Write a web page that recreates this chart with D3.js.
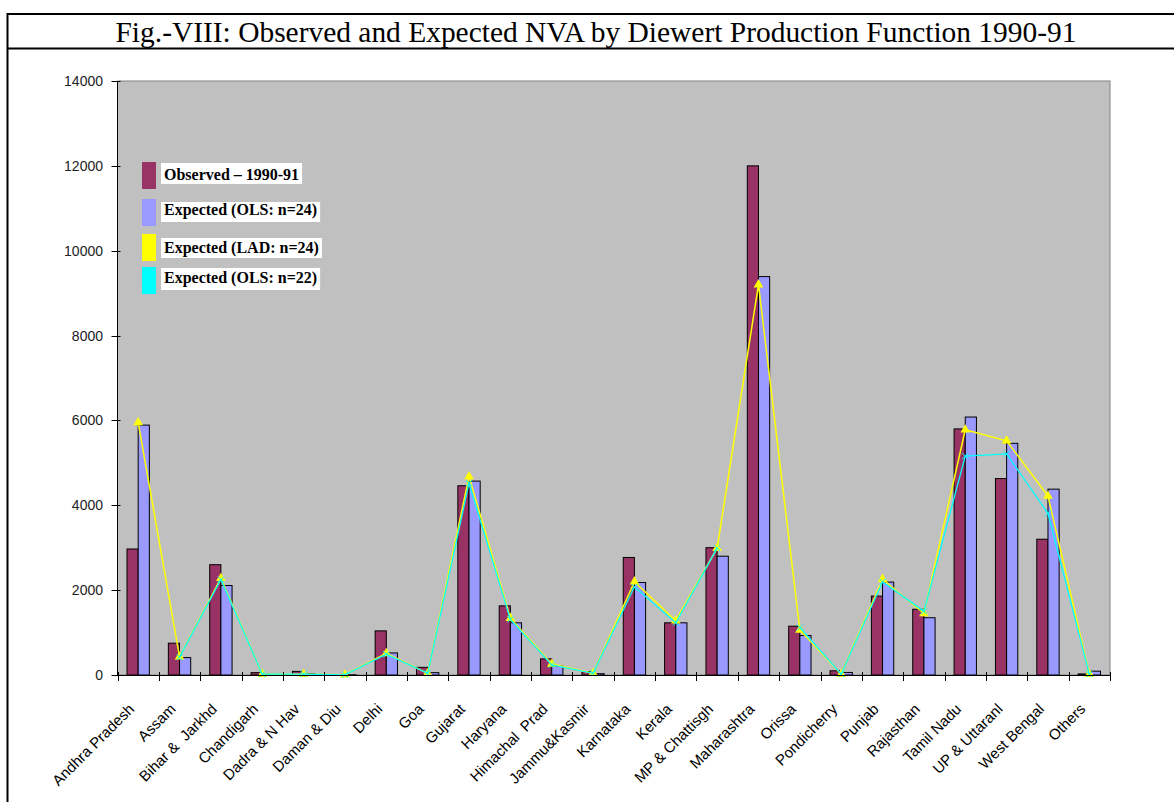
<!DOCTYPE html>
<html>
<head>
<meta charset="utf-8">
<script src="https://cdn.jsdelivr.net/npm/d3@7"></script>
<style>
  html, body { margin: 0; padding: 0; background: #fff; }
  svg { display: block; }
</style>
</head>
<body>
<script>
const categories = ["Andhra Pradesh","Assam","Bihar &  Jarkhd","Chandigarh","Dadra & N Hav","Daman & Diu","Delhi","Goa","Gujarat","Haryana","Himachal  Prad","Jammu&Kasmir","Karnataka","Kerala","MP & Chattisgh","Maharashtra","Orissa","Pondicherry","Punjab","Rajasthan","Tamil Nadu","UP & Uttaranl","West Bengal","Others"];
const observed  = [2970, 750, 2600, 55, 85, 8, 1040, 180, 4460, 1630, 380, 80, 2770, 1230, 3000, 12000, 1150, 100, 1860, 1550, 5800, 4630, 3200, 25];
const olsExp24  = [5890, 410, 2110, 15, 30, 5, 520, 55, 4570, 1230, 210, 30, 2180, 1230, 2800, 9390, 930, 60, 2190, 1350, 6080, 5460, 4380, 90];
const ladExp24  = [5950, 430, 2280, 20, 20, 5, 510, 40, 4680, 1340, 260, 40, 2200, 1280, 2990, 9200, 1060, 20, 2260, 1450, 5780, 5520, 4220, 20];
const olsExp22  = [null, 420, 2250, 20, 20, 5, 490, 40, 4520, 1310, 240, 40, 2080, 1230, 2990, null, 1120, 20, 2200, 1500, 5160, 5210, 3810, 20];
const yTicks = [0, 2000, 4000, 6000, 8000, 10000, 12000, 14000];
const legendLabels = ["Observed \u2013 1990-91", "Expected (OLS: n=24)", "Expected (LAD: n=24)", "Expected (OLS: n=22)"];
const titleText = "Fig.-VIII: Observed and Expected NVA by Diewert Production Function 1990-91";

const W = 1174, H = 802;
const svg = d3.select("body").append("svg").attr("width", W).attr("height", H);

// frame
svg.append("line").attr("x1", 7).attr("x2", W).attr("y1", 14).attr("y2", 14).attr("stroke", "#000").attr("stroke-width", 2);
svg.append("line").attr("x1", 7).attr("x2", W).attr("y1", 48.5).attr("y2", 48.5).attr("stroke", "#000").attr("stroke-width", 2);
svg.append("line").attr("x1", 7.5).attr("x2", 7.5).attr("y1", 13).attr("y2", H).attr("stroke", "#000").attr("stroke-width", 2);

svg.append("text").attr("x", 596).attr("y", 41.5)
  .attr("text-anchor", "middle")
  .attr("font-family", "'Liberation Serif', 'Times New Roman', serif")
  .attr("font-size", 30)
  .attr("textLength", 961).attr("lengthAdjust", "spacingAndGlyphs")
  .text(titleText);

const pLeft = 117.5, pRight = 1110, pTop = 81, pBottom = 675;
const x = d3.scaleBand().domain(categories).range([pLeft, pRight]).paddingInner(0).paddingOuter(0);
const sub = d3.scaleBand().domain(["obs", "ols"]).range([0, x.bandwidth()]).paddingInner(0).paddingOuter(0.85);
const y = d3.scaleLinear().domain([0, 14000]).range([pBottom, pTop]);

// plot area
svg.append("rect").attr("x", pLeft).attr("y", pTop).attr("width", pRight - pLeft).attr("height", pBottom - pTop)
  .attr("fill", "#C0C0C0").attr("stroke", "#808080").attr("stroke-width", 1);

// bars
const barSeries = [
  { key: "obs", values: observed, color: "#993366" },
  { key: "ols", values: olsExp24, color: "#9999FF" }
];
barSeries.forEach(s => {
  svg.append("g").selectAll("rect").data(categories).join("rect")
    .attr("x", (d) => x(d) + sub(s.key))
    .attr("y", (d, i) => y(s.values[i]))
    .attr("width", sub.bandwidth())
    .attr("height", (d, i) => y(0) - y(s.values[i]))
    .attr("fill", s.color)
    .attr("stroke", "#000").attr("stroke-width", 1);
});

const cx = d => x(d) + x.bandwidth() / 2;

// LAD line (yellow, triangles)
const ladPts = categories.map((c, i) => ({ c, v: ladExp24[i] }));
const lineGen = d3.line().defined(p => p.v != null).x(p => cx(p.c)).y(p => y(p.v));
svg.append("path").datum(ladPts).attr("d", lineGen).attr("fill", "none")
  .attr("stroke", "#FFFF00").attr("stroke-width", 1.5);
svg.append("g").selectAll("path").data(ladPts).join("path")
  .attr("transform", p => `translate(${cx(p.c)},${y(p.v)})`)
  .attr("d", d3.symbol().type(d3.symbolTriangle).size(40))
  .attr("fill", "#FFFF00");

// OLS n=22 line (cyan, x markers)
const o22Pts = categories.map((c, i) => ({ c, v: olsExp22[i] }));
svg.append("path").datum(o22Pts).attr("d", lineGen).attr("fill", "none")
  .attr("stroke", "#00FFFF").attr("stroke-width", 1.3);
svg.append("g").selectAll("path").data(o22Pts.filter(p => p.v != null)).join("path")
  .attr("transform", p => `translate(${cx(p.c)},${y(p.v)})`)
  .attr("d", "M-3,-3L3,3M-3,3L3,-3")
  .attr("stroke", "#00FFFF").attr("stroke-width", 1).attr("fill", "none");

// axes
const gy = svg.append("g");
gy.append("line").attr("x1", pLeft).attr("x2", pLeft).attr("y1", pTop).attr("y2", pBottom).attr("stroke", "#000");
gy.selectAll("line.t").data(yTicks).join("line").attr("class", "t")
  .attr("x1", pLeft - 6).attr("x2", pLeft + 3)
  .attr("y1", d => Math.round(y(d)) + 0.5).attr("y2", d => Math.round(y(d)) + 0.5)
  .attr("stroke", "#000");
gy.selectAll("text").data(yTicks).join("text")
  .attr("x", 103).attr("y", d => y(d)).attr("dy", "0.36em")
  .attr("text-anchor", "end")
  .attr("font-family", "'Liberation Sans', Arial, sans-serif").attr("font-size", 14)
  .attr("fill", "#222")
  .text(d => d);

const gx = svg.append("g");
gx.append("line").attr("x1", pLeft).attr("x2", pRight).attr("y1", pBottom + 0.5).attr("y2", pBottom + 0.5).attr("stroke", "#000");
const tickPos = categories.map(c => x(c)).concat([pRight]);
gx.selectAll("line.t").data(tickPos).join("line").attr("class", "t")
  .attr("x1", d => Math.round(d) + 0.5).attr("x2", d => Math.round(d) + 0.5)
  .attr("y1", pBottom - 3).attr("y2", pBottom + 6)
  .attr("stroke", "#000");
gx.selectAll("text").data(categories).join("text")
  .attr("transform", d => `translate(${cx(d) - 3},${pBottom + 35}) rotate(-45)`)
  .attr("text-anchor", "end")
  .attr("font-family", "'Liberation Sans', Arial, sans-serif").attr("font-size", 15)
  .style("white-space", "pre")
  .attr("fill", "#000")
  .text(d => d);

// legend
const legendColors = ["#993366", "#9999FF", "#FFFF00", "#00FFFF"];
const swY = [162, 199, 234, 267];
const boxY = [163, 202, 238, 268];
const boxH = [21, 20, 20, 22];
const baseY = [180, 215, 253, 283];
const lg = svg.append("g");
legendLabels.forEach((lab, i) => {
  lg.append("rect").attr("x", 142).attr("y", swY[i]).attr("width", 14).attr("height", 27).attr("fill", legendColors[i]);
  const t = lg.append("text").attr("x", 164).attr("y", baseY[i])
    .attr("font-family", "'Liberation Serif', 'Times New Roman', serif")
    .attr("font-weight", "bold").attr("font-size", 16).attr("fill", "#000")
    .text(lab);
  const bb = t.node().getBBox();
  lg.insert("rect", "text").attr("x", 161).attr("y", boxY[i]).attr("width", bb.width + 6).attr("height", boxH[i]).attr("fill", "#fff");
});
</script>
</body>
</html>
